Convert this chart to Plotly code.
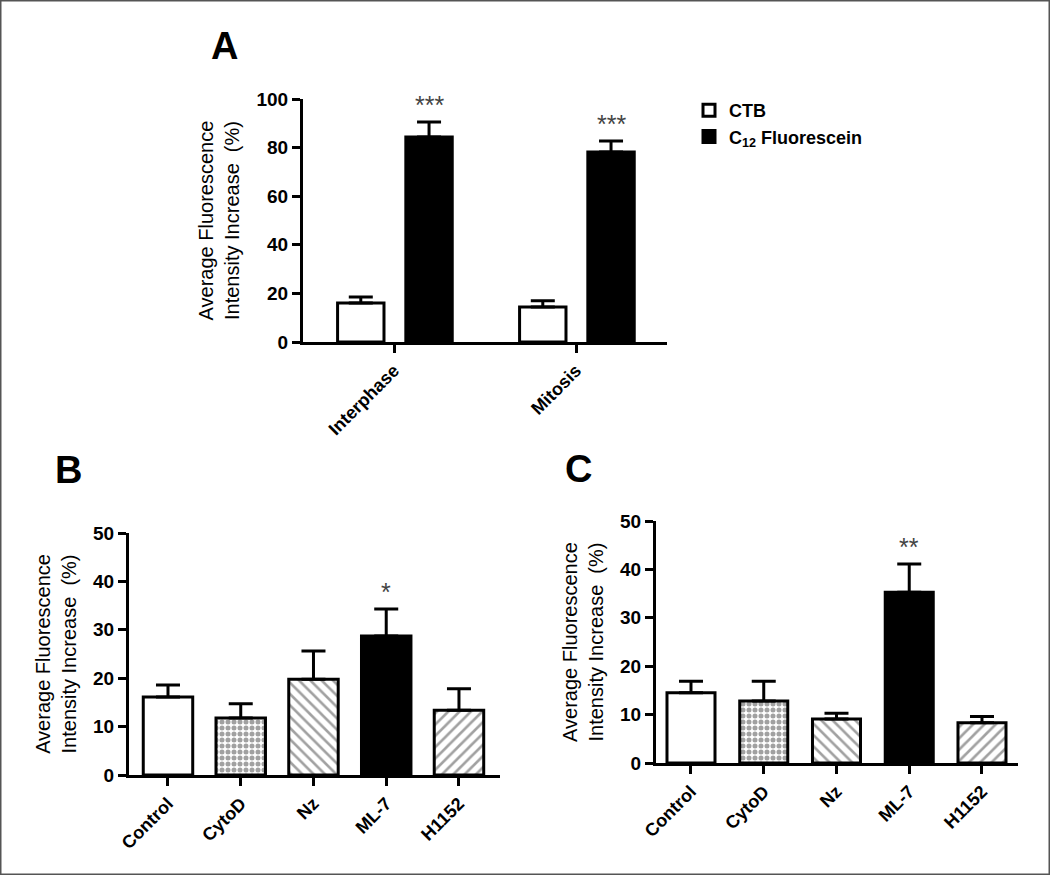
import plotly.graph_objects as go

W, H = 1050, 875

# ---------------- data ----------------
phases = ["Interphase", "Mitosis"]
ctb_mean = [16.0, 14.4]
ctb_err = [2.5, 2.6]
c12_mean = [84.4, 78.2]
c12_err = [6.1, 4.5]
a_stars = ["***", "***"]

treatments = ["Control", "CytoD", "Nz", "ML-7", "H1152"]
b_mean = [16.1, 11.8, 19.8, 28.7, 13.4]
b_err = [2.5, 2.9, 5.8, 5.6, 4.4]
b_stars = ["", "", "", "*", ""]

c_mean = [14.5, 12.8, 9.1, 35.3, 8.3]
c_err = [2.4, 4.1, 1.2, 5.8, 1.3]
c_stars = ["", "", "", "**", ""]

bar_colors = ["white", "white", "white", "black", "white"]
bar_patterns = ["", ".", "\\", "", "/"]
pattern_sizes = [8, 6, 8, 8, 8]
pattern_solidity = [0.3, 0.55, 0.33, 0.3, 0.33]

FONT = "Liberation Sans, Arial, sans-serif"


def px_x(p):
    return p / W


def px_y(p):
    return 1 - p / H


fig = go.Figure()

# Panel A
fig.add_trace(go.Bar(
    x=phases, y=ctb_mean, name="CTB", xaxis="x", yaxis="y",
    width=0.255, offset=-0.31,
    marker=dict(color="white", line=dict(color="black", width=3)),
    error_y=dict(type="data", array=ctb_err, arrayminus=[0, 0], symmetric=False,
                 color="black", thickness=3, width=12),
))
fig.add_trace(go.Bar(
    x=phases, y=c12_mean, name="C<sub>12</sub> Fluorescein", xaxis="x", yaxis="y",
    width=0.255, offset=0.065,
    marker=dict(color="black", line=dict(color="black", width=3)),
    error_y=dict(type="data", array=c12_err, arrayminus=[0, 0], symmetric=False,
                 color="black", thickness=3, width=12),
))

# Panels B and C
for (mean, err, xa, ya, w) in [(b_mean, b_err, "x2", "y2", 0.68), (c_mean, c_err, "x3", "y3", 0.66)]:
    fig.add_trace(go.Bar(
        x=treatments, y=mean, xaxis=xa, yaxis=ya, showlegend=False,
        width=w,
        marker=dict(color=bar_colors, line=dict(color="black", width=3),
                    pattern=dict(shape=bar_patterns, fgcolor="black", bgcolor="white",
                                 size=pattern_sizes, solidity=pattern_solidity,
                                 fillmode="overlay")),
        error_y=dict(type="data", array=err, arrayminus=[0] * len(err), symmetric=False,
                     color="black", thickness=3, width=12),
    ))

ytitle = "Average Fluorescence<br>Intensity Increase  (%)"
axis_common = dict(showline=True, linecolor="black", linewidth=3, ticks="outside",
                   ticklen=8, tickwidth=3, tickcolor="black", showgrid=False,
                   zeroline=False, mirror=False, automargin=False)
tickf = dict(family=FONT, size=19, color="black", weight="bold")
catf = dict(family=FONT, size=18, color="black", weight="bold")
titlef = dict(family=FONT, size=20, color="black")

fig.update_layout(
    template="none",
    width=W, height=H,
    margin=dict(l=0, r=0, t=0, b=0, pad=0, autoexpand=False),
    paper_bgcolor="white", plot_bgcolor="white",
    barmode="overlay",
    xaxis=dict(domain=[px_x(303), px_x(667)], anchor="y", range=[-0.5, 1.5],
               tickangle=-45, tickfont=catf, **axis_common),
    yaxis=dict(domain=[px_y(342), px_y(99)], anchor="x", range=[0, 100], dtick=20,
               tickfont=tickf, title=dict(text=ytitle, font=titlef, standoff=12),
               **axis_common),
    xaxis2=dict(domain=[px_x(129), px_x(500)], anchor="y2", range=[-0.536, 4.564],
                tickangle=-45, tickfont=catf, **axis_common),
    yaxis2=dict(domain=[px_y(775), px_y(533)], anchor="x2", range=[0, 50], dtick=10,
                tickfont=tickf, title=dict(text=ytitle, font=titlef, standoff=12),
                **axis_common),
    xaxis3=dict(domain=[px_x(656), px_x(1018)], anchor="y3", range=[-0.481, 4.495],
                tickangle=-45, tickfont=catf, **axis_common),
    yaxis3=dict(domain=[px_y(763), px_y(521)], anchor="x3", range=[0, 50], dtick=10,
                tickfont=tickf, title=dict(text=ytitle, font=titlef, standoff=12),
                **axis_common),
    legend=dict(x=px_x(689), y=px_y(92), xanchor="left", yanchor="top",
                font=dict(family=FONT, size=18, color="black", weight="bold"),
                bgcolor="rgba(0,0,0,0)", borderwidth=0, tracegroupgap=4),
    shapes=[dict(type="rect", xref="paper", yref="paper", x0=0, y0=0, x1=1, y1=1,
                 line=dict(color="#555555", width=3))],
)

ann = []
# panel letters
for letter, cx, cy in [("A", 224, 46), ("B", 68, 470), ("C", 578, 469)]:
    ann.append(dict(text=letter, x=px_x(cx), y=px_y(cy), xref="paper", yref="paper",
                    showarrow=False, xanchor="center", yanchor="middle",
                    font=dict(family=FONT, size=38, color="black", weight="bold")))

starf = dict(family=FONT, size=25, color="#444444")
for i, s in enumerate(a_stars):
    if s:
        ann.append(dict(text=s, x=i + 0.065 + 0.1275, y=c12_mean[i] + c12_err[i], xref="x", yref="y",
                        showarrow=False, yanchor="bottom", yshift=1, font=starf))
for stars, mean, err, xr, yr in [(b_stars, b_mean, b_err, "x2", "y2"), (c_stars, c_mean, c_err, "x3", "y3")]:
    for i, s in enumerate(stars):
        if s:
            ann.append(dict(text=s, x=treatments[i], y=mean[i] + err[i], xref=xr, yref=yr,
                            showarrow=False, yanchor="bottom", yshift=1, font=starf))

fig.update_layout(annotations=ann)

fig.write_html("out.html", config={"displayModeBar": False},
               post_script="document.body.style.margin='0';")
